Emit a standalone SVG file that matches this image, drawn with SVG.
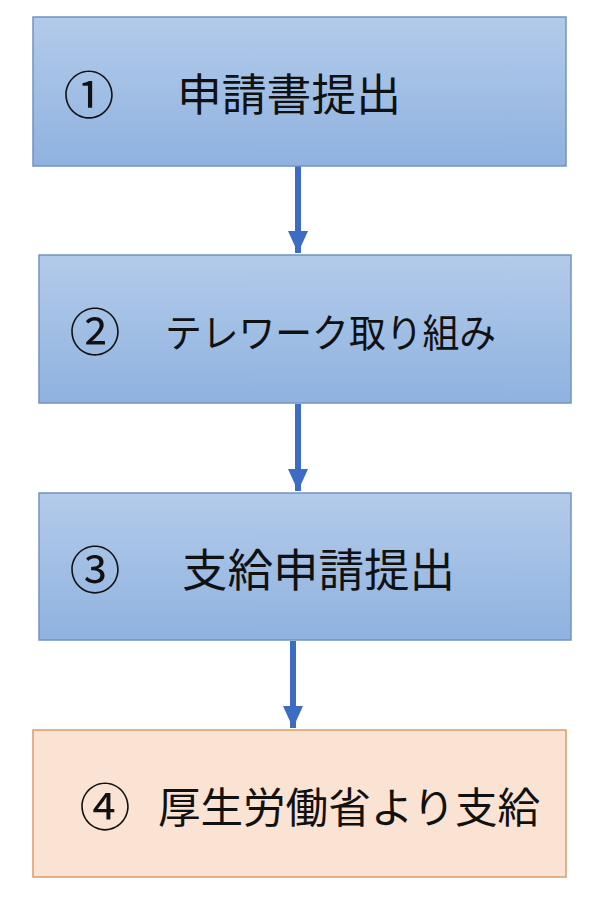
<svg xmlns="http://www.w3.org/2000/svg" width="590" height="902" viewBox="0 0 590 902">
  <defs>
    <linearGradient id="blueFill" x1="0" y1="0" x2="0" y2="1">
      <stop offset="0" stop-color="#b3cbea"/>
      <stop offset="1" stop-color="#8fb2e0"/>
    </linearGradient>
    <marker id="arrowHead" viewBox="0 0 22 20" refX="22" refY="10" markerWidth="22" markerHeight="20" markerUnits="userSpaceOnUse" orient="auto">
      <path d="M0,0 L22,10 L0,20 Z" fill="#3d6cc4"/>
    </marker>
  </defs>
  <style>
    .blue { fill: url(#blueFill); stroke: #7393c0; stroke-width: 1.5; }
    .peach { fill: #fbe3d4; stroke: #dc9a66; stroke-width: 1.5; }
    .lbl { font-family: "Noto Sans CJK JP", "Noto Sans", sans-serif; fill: #111111; dominant-baseline: central; }
    .num { font-size: 51px; text-anchor: middle; }
    .conn { stroke: #3d6cc4; stroke-width: 6; fill: none; marker-end: url(#arrowHead); }
  </style>
  <rect width="590" height="902" fill="#ffffff"/>

  <g id="connectors">
    <line class="conn" x1="298" y1="166" x2="298" y2="253"/>
    <line class="conn" x1="298" y1="404" x2="298" y2="491"/>
    <line class="conn" x1="293" y1="641" x2="293" y2="728"/>
  </g>

  <g id="node1">
    <rect class="blue" x="33" y="17" width="533" height="149"/>
    <text class="lbl num" x="89" y="92">①</text>
    <text class="lbl" x="177" y="92" font-size="44" textLength="224" lengthAdjust="spacingAndGlyphs">申請書提出</text>
  </g>

  <g id="node2">
    <rect class="blue" x="39" y="255" width="532" height="148"/>
    <text class="lbl num" x="95" y="329">②</text>
    <text class="lbl" x="165" y="330" font-size="39" textLength="331" lengthAdjust="spacingAndGlyphs">テレワーク取り組み</text>
  </g>

  <g id="node3">
    <rect class="blue" x="39" y="493" width="532" height="147"/>
    <text class="lbl num" x="95" y="567">③</text>
    <text class="lbl" x="182" y="567" font-size="45" textLength="273" lengthAdjust="spacingAndGlyphs">支給申請提出</text>
  </g>

  <g id="node4">
    <rect class="peach" x="33" y="730" width="533" height="147"/>
    <text class="lbl num" x="105" y="804">④</text>
    <text class="lbl" x="158" y="804" font-size="42" textLength="382" lengthAdjust="spacingAndGlyphs">厚生労働省より支給</text>
  </g>
</svg>
